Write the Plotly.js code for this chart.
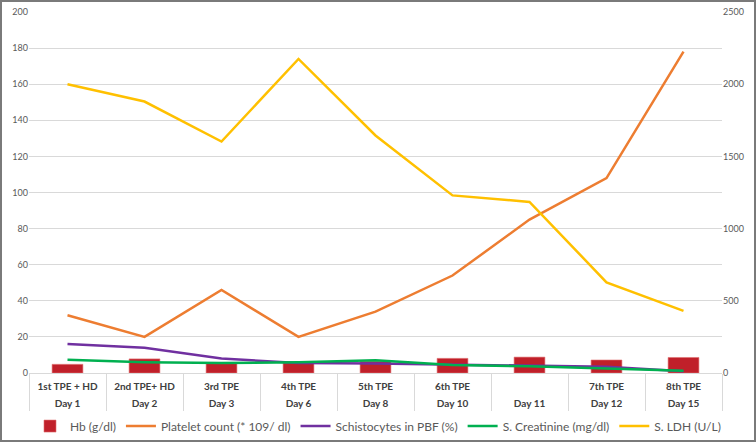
<!DOCTYPE html>
<html>
<head>
<meta charset="utf-8">
<script src="https://cdn.plot.ly/plotly-3.0.1.min.js"></script>
<style>
  html, body { margin: 0; padding: 0; background: #fff; }
  #wrap { position: relative; width: 756px; height: 442px; }
  #chart { position: absolute; left: 0; top: 0; width: 756px; height: 442px; }
  #frame { position: absolute; left: 0; top: 0; width: 756px; height: 442px; box-sizing: border-box; border: 2px solid #7a7a7a; pointer-events: none; }
</style>
</head>
<body>
<div id="wrap"><div id="chart"></div><div id="frame"></div></div>
<script>
const days = ["Day 1", "Day 2", "Day 3", "Day 6", "Day 8", "Day 10", "Day 11", "Day 12", "Day 15"];
const sessions = ["1st TPE + HD", "2nd TPE+ HD", "3rd TPE", "4th TPE", "5th TPE", "6th TPE", " ", "7th TPE", "8th TPE"];
const hb = [4.8, 7.8, 5.7, 5.7, 6.5, 8.1, 8.8, 7.2, 8.6];
const platelet = [32, 20, 46, 20, 34, 54, 85, 108, 178];
const schistocytes = [16, 14, 8, 5.5, 5.2, 4.5, 4, 3.5, 1];
const creatinine = [7.3, 6, 5.5, 6, 7, 4.5, 3.7, 2.5, 1.3];
const ldh = [2000, 1880, 1603, 2175, 1645, 1230, 1185, 628, 430];

const lw = 2.5;
const FONT = 'Lato, "Open Sans", sans-serif';

const traces = [
  { type: 'bar', name: 'Hb (g/dl)', x: days, y: hb, width: 0.4,
    marker: { color: '#C0202A', line: { color: '#E07070', width: 0.6 } } },
  { type: 'scatter', mode: 'lines', name: 'Platelet count (* 109/ dl)', x: days, y: platelet,
    line: { color: '#ED7D31', width: lw } },
  { type: 'scatter', mode: 'lines', name: 'Schistocytes in PBF (%)', x: days, y: schistocytes,
    line: { color: '#7030A0', width: lw } },
  { type: 'scatter', mode: 'lines', name: 'S. Creatinine (mg/dl)', x: days, y: creatinine,
    line: { color: '#00B050', width: lw } },
  { type: 'scatter', mode: 'lines', name: 'S. LDH (U/L)', x: days, y: ldh, xaxis: 'x2', yaxis: 'y2',
    line: { color: '#FFC000', width: lw } }
];

const tickFont = { family: FONT, size: 9, color: '#595959' };
const catFont = { family: FONT, size: 10, color: '#404040', weight: 'bold' };

const layout = {
  width: 756, height: 442,
  margin: { l: 29, r: 34, t: 12, b: 69 },
  paper_bgcolor: '#fff', plot_bgcolor: '#fff',
  showlegend: true,
  legend: { orientation: 'h', xref: 'container', yref: 'container', x: 0.5, xanchor: 'center',
            y: 0.036, yanchor: 'middle', bgcolor: 'rgba(0,0,0,0)',
            font: { family: FONT, size: 12, color: '#595959' },
            itemwidth: 30, traceorder: 'normal' },
  xaxis: { type: 'category', categoryorder: 'array', categoryarray: days, range: [-0.5, 8.5],
           tickmode: 'array', tickvals: days, ticktext: sessions,
           tickson: 'boundaries', ticks: 'outside', ticklen: 37, tickcolor: '#d9d9d9', tickwidth: 1,
           ticklabelstandoff: 4,
           showline: true, linecolor: '#d9d9d9', linewidth: 1, automargin: false,
           tickfont: catFont, showgrid: false, fixedrange: true },
  xaxis2: { type: 'category', categoryorder: 'array', categoryarray: days, range: [-0.5, 8.5],
            overlaying: 'x', side: 'bottom', anchor: 'y', matches: 'x',
            ticks: '', showline: false, showgrid: false, automargin: false,
            ticklabelstandoff: 23,
            tickfont: catFont },
  yaxis: { range: [0, 200], dtick: 20, tick0: 0, showgrid: true, gridcolor: '#d9d9d9', gridwidth: 1,
           zeroline: false, showline: false, tickfont: tickFont, ticks: '', automargin: false },
  yaxis2: { range: [0, 2500], dtick: 500, tick0: 0, overlaying: 'y', side: 'right', anchor: 'x', showgrid: false,
            zeroline: false, showline: false, tickfont: tickFont, ticks: '', automargin: false }
};

Plotly.newPlot('chart', traces, layout, { displayModeBar: false, staticPlot: true });
</script>
</body>
</html>
